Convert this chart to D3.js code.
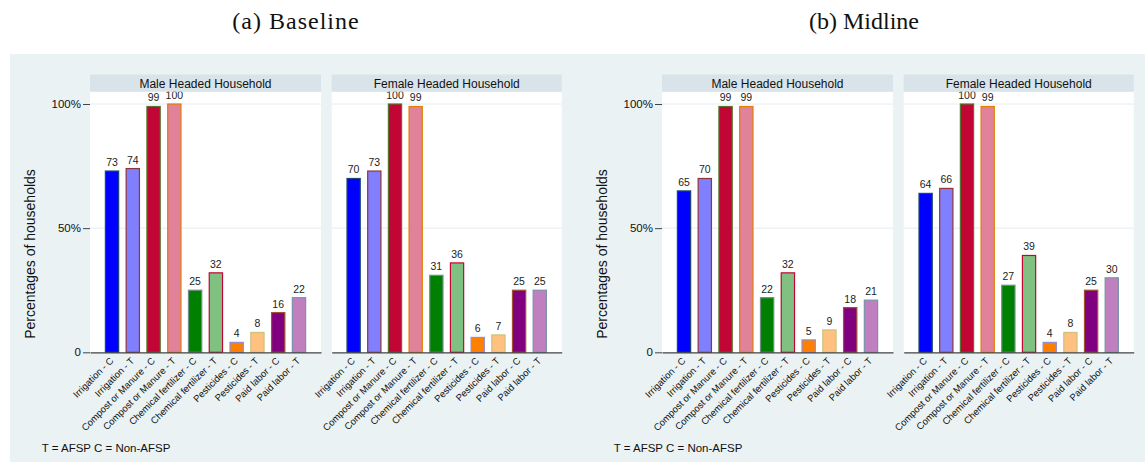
<!DOCTYPE html>
<html>
<head>
<meta charset="utf-8">
<script src="https://cdn.jsdelivr.net/npm/d3@7"></script>
<style>
  html, body { margin: 0; padding: 0; background: #ffffff; }
  svg { display: block; }
</style>
</head>
<body>
<div id="chart"></div>
<script>
// ---------------- DATA ----------------
const categories = [
  "Irrigation - C", "Irrigation - T",
  "Compost or Manure - C", "Compost or Manure - T",
  "Chemical fertilizer - C", "Chemical fertilizer - T",
  "Pesticides - C", "Pesticides - T",
  "Paid labor - C", "Paid labor - T"
];
const groupTitles = ["(a) Baseline", "(b) Midline"];
const panelTitles = ["Male Headed Household", "Female Headed Household"];
const yTickValues = [0, 50, 100];
const yTickLabels = ["0", "50%", "100%"];
const yAxisTitle = "Percentages of households";
const footnote = "T = AFSP C = Non-AFSP";

const baselineMale   = [73, 74, 99, 100, 25, 32, 4, 8, 16, 22];
const baselineFemale = [70, 73, 100, 99, 31, 36, 6, 7, 25, 25];
const midlineMale    = [65, 70, 99, 99, 22, 32, 5, 9, 18, 21];
const midlineFemale  = [64, 66, 100, 99, 27, 39, 4, 8, 25, 30];

const groups = [
  [baselineMale, baselineFemale],
  [midlineMale, midlineFemale]
];

// ---------------- STYLE ----------------
const fillColors = ["#0000ff", "#8080ff", "#c10534", "#e0829a", "#008000",
                    "#80c080", "#ff8000", "#ffc080", "#800080", "#c080c0"];
const lineColors = ["#1a476f", "#90353b", "#55752f", "#e37e00", "#6e8e84",
                    "#c10534", "#938dd2", "#cac27e", "#a0522d", "#7b92a8"];

const W = 1145, H = 465;
const sans = "'Liberation Sans', Arial, Helvetica, sans-serif";
const serif = "'Liberation Serif', 'Times New Roman', serif";

const svg = d3.select("#chart").append("svg")
  .attr("width", W).attr("height", H)
  .attr("viewBox", `0 0 ${W} ${H}`);

svg.append("rect").attr("x", 0).attr("y", 0).attr("width", W).attr("height", H).attr("fill", "#ffffff");
// graph region background
svg.append("rect").attr("x", 10).attr("y", 54).attr("width", W - 10).attr("height", 408)
  .attr("fill", "#eaf2f3");

const plotTop = 91.7, plotBottom = 352.3, yAt100 = 104;
const headerTop = 74.5;
const y = d3.scaleLinear().domain([0, 100]).range([plotBottom, yAt100]);

const groupOffsets = [0, 572];
const titleCenters = [296, 864];
const panelRanges = [[90, 321], [331.7, 561.7]];

groups.forEach((panelsData, g) => {
  const ox = groupOffsets[g];

  // group title
  svg.append("text")
    .attr("x", titleCenters[g]).attr("y", 29)
    .attr("text-anchor", "middle")
    .style("font-family", serif).style("font-size", "24px").style("fill", "#111")
    .style("letter-spacing", g === 0 ? "1px" : "0px")
    .text(groupTitles[g]);

  // y axis title
  svg.append("text")
    .attr("transform", `translate(${30 + ox},254) rotate(-90)`)
    .attr("text-anchor", "middle").attr("dominant-baseline", "central")
    .style("font-family", sans).style("font-size", "14px").style("fill", "#111")
    .text(yAxisTitle);

  // footnote
  svg.append("text")
    .attr("x", 41.7 + ox).attr("y", 451.8)
    .style("font-family", sans).style("font-size", "11.5px").style("fill", "#111")
    .text(footnote);

  panelsData.forEach((vals, p) => {
    const x0 = panelRanges[p][0] + ox, x1 = panelRanges[p][1] + ox;
    const x = d3.scaleBand().domain(categories).range([x0, x1])
      .paddingInner(0.36).paddingOuter(0.74);

    const panel = svg.append("g");

    // plot region
    panel.append("rect")
      .attr("x", x0).attr("y", plotTop)
      .attr("width", x1 - x0).attr("height", plotBottom - plotTop)
      .attr("fill", "#ffffff");

    // gridlines
    panel.selectAll("line.grid").data([50, 100]).join("line")
      .attr("class", "grid")
      .attr("x1", x0).attr("x2", x1)
      .attr("y1", d => y(d)).attr("y2", d => y(d))
      .attr("stroke", "#e3ecef").attr("stroke-width", 1);

    // y axis only on the first panel
    if (p === 0) {
      const yAxis = panel.append("g")
        .attr("transform", `translate(${x0},0)`)
        .call(d3.axisLeft(y).tickValues(yTickValues)
          .tickFormat((d, i) => yTickLabels[i]).tickSize(7).tickPadding(2));
      yAxis.select(".domain").remove();
      yAxis.selectAll(".tick line").attr("stroke", "#444");
      yAxis.selectAll(".tick text")
        .style("font-family", sans).style("font-size", "11.5px").style("fill", "#111");
    }

    // bars
    panel.selectAll("rect.bar").data(vals).join("rect")
      .attr("class", "bar")
      .attr("x", (d, i) => x(categories[i]))
      .attr("y", d => y(d))
      .attr("width", x.bandwidth())
      .attr("height", d => y(0) - y(d))
      .attr("fill", (d, i) => fillColors[i])
      .attr("stroke", (d, i) => lineColors[i])
      .attr("stroke-width", 1.2);

    // value labels
    panel.selectAll("text.val").data(vals).join("text")
      .attr("class", "val")
      .attr("x", (d, i) => x(categories[i]) + x.bandwidth() / 2)
      .attr("y", d => y(d) - 5)
      .attr("text-anchor", "middle")
      .style("font-family", sans).style("font-size", "10.5px").style("fill", "#222")
      .text(d => d);

    // x axis
    const xAxis = panel.append("g")
      .attr("transform", `translate(0,${plotBottom})`)
      .call(d3.axisBottom(x).tickSize(0).tickSizeOuter(0));
    xAxis.select(".domain").attr("stroke", "#444").attr("stroke-width", 1.2);
    xAxis.selectAll(".tick text")
      .attr("x", 0).attr("y", 0).attr("dy", 0)
      .attr("transform", "translate(2,9) rotate(-45)")
      .style("text-anchor", "end")
      .style("font-family", sans).style("font-size", "9.5px").style("fill", "#111");

    // header strip (drawn last so it overlaps clipped value labels)
    panel.append("rect")
      .attr("x", x0).attr("y", headerTop)
      .attr("width", x1 - x0).attr("height", plotTop - headerTop)
      .attr("fill", "#d8e4ea");
    panel.append("text")
      .attr("x", (x0 + x1) / 2).attr("y", 87.5)
      .attr("text-anchor", "middle")
      .style("font-family", sans).style("font-size", "12px").style("fill", "#111")
      .text(panelTitles[p]);
  });
});
</script>
</body>
</html>
